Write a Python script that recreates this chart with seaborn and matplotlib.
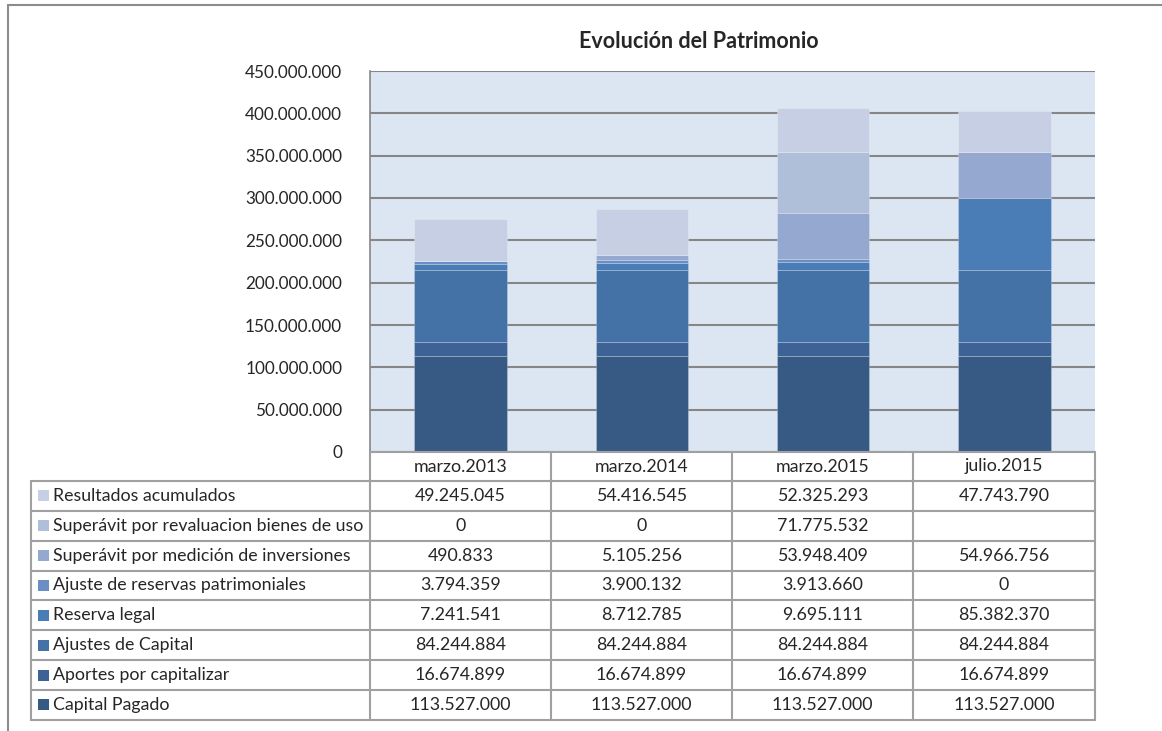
import matplotlib
matplotlib.use('Agg')
import matplotlib.pyplot as plt
import numpy as np
import seaborn as sns

# datos
fechas = ['marzo.2013', 'marzo.2014', 'marzo.2015', 'julio.2015']
series = ['Capital Pagado', 'Aportes por capitalizar', 'Ajustes de Capital', 'Reserva legal',
          'Ajuste de reservas patrimoniales', 'Superávit por medición de inversiones',
          'Superávit por revaluacion bienes de uso', 'Resultados acumulados']
capital_pagado = [113527000, 113527000, 113527000, 113527000]
aportes = [16674899, 16674899, 16674899, 16674899]
ajustes_capital = [84244884, 84244884, 84244884, 84244884]
reserva_legal = [7241541, 8712785, 9695111, 85382370]
ajuste_reservas = [3794359, 3900132, 3913660, 0]
sup_medicion = [490833, 5105256, 53948409, 54966756]
sup_revaluacion = [0, 0, 71775532, None]
resultados = [49245045, 54416545, 52325293, 47743790]
valores = [capital_pagado, aportes, ajustes_capital, reserva_legal,
           ajuste_reservas, sup_medicion, sup_revaluacion, resultados]
colores = ['#375a85', '#3d6396', '#4572a6', '#4a7cb6',
           '#6b8fc4', '#95a9d0', '#afbfda', '#c6cfe3']
yticks = np.arange(0, 450000001, 50000000)


def fmt(v):
    if v is None:
        return ''
    return f'{v:,}'.replace(',', '.')


sns.set_style('white')
plt.rcParams['font.family'] = ['Lato', 'DejaVu Sans']

W, H = 1162, 731
fig = plt.figure(figsize=(W / 100, H / 100), dpi=100)
ax = fig.add_axes([370 / W, (H - 452) / H, 725 / W, (452 - 71) / H])
ax.set_facecolor('#dce6f2')

base = np.zeros(len(fechas))
for vals, c in zip(valores, colores):
    v = np.array([0 if x is None else x for x in vals], dtype=float)
    sns.barplot(x=fechas, y=v, bottom=base, color=c, saturation=1, width=0.51,
                edgecolor=(1, 1, 1, 0.22), linewidth=0.7, ax=ax, zorder=3)
    base += v

ax.set_ylim(0, 450000000)
ax.set_xlim(-0.5, 3.5)
ax.set_yticks(yticks)
ax.set_yticklabels([fmt(int(t)) for t in yticks], fontsize=12.3)
ax.tick_params(axis='y', length=0, pad=20)
ax.tick_params(axis='x', length=0, labelbottom=False)
ax.set_xlabel('')
ax.set_ylabel('')
ax.yaxis.grid(True, color='#868686', linewidth=1.5, zorder=0)
ax.set_axisbelow(True)
for s in ['top', 'right', 'bottom']:
    ax.spines[s].set_visible(False)
ax.spines['left'].set_color('#868686')
ax.spines['left'].set_linewidth(1.2)

# tabla de datos y marco
t = fig.add_axes([0, 0, 1, 1], zorder=5)
t.set_xlim(0, W)
t.set_ylim(H, 0)
t.axis('off')
t.patch.set_alpha(0)

lc = '#a0a0a0'
fs = 12.8
cols = [370, 551, 732, 913, 1095]
top_row, row_h = 452, 29.85
rows_y = [481 + i * row_h for i in range(len(series) + 1)]

# marco exterior
t.plot([8, W], [5, 5], color='#8c8c8c', lw=1.5)
t.plot([8, 8], [5, H], color='#8c8c8c', lw=1.5)

# encabezado
t.plot([cols[0], cols[-1]], [top_row, top_row], color=lc, lw=1.5)
for x in cols:
    t.plot([x, x], [top_row, rows_y[-1]], color=lc, lw=1.5)
t.plot([31, 31], [rows_y[0], rows_y[-1]], color=lc, lw=1.5)
for y in rows_y:
    t.plot([31, cols[-1]], [y, y], color=lc, lw=1.5)
for i, f in enumerate(fechas):
    t.text((cols[i] + cols[i + 1]) / 2, (top_row + rows_y[0]) / 2, f,
           ha='center', va='center', fontsize=fs)

# filas: de arriba (Resultados) hacia abajo (Capital Pagado)
for r, idx in enumerate(range(len(series) - 1, -1, -1)):
    yc = (rows_y[r] + rows_y[r + 1]) / 2
    t.add_patch(plt.Rectangle((38, yc - 5.5), 11, 11, color=colores[idx], lw=0))
    t.text(53, yc, series[idx], ha='left', va='center', fontsize=fs)
    for i, v in enumerate(valores[idx]):
        t.text((cols[i] + cols[i + 1]) / 2, yc, fmt(v), ha='center', va='center', fontsize=fs)

fig.text(699 / W, 1 - 41 / H, 'Evolución del Patrimonio', ha='center', va='center',
         fontsize=15.5, fontweight='bold')

fig.savefig('out.png', dpi=100)
